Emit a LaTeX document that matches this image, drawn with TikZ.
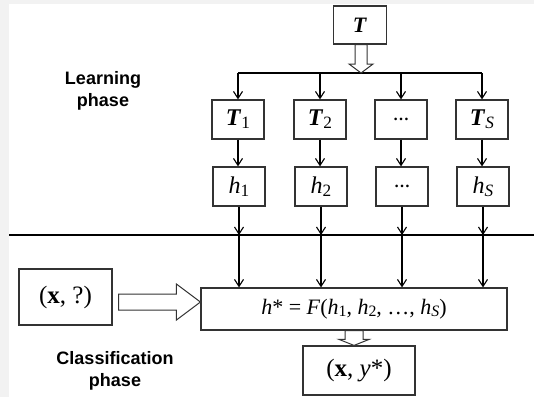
\documentclass[tikz,border=0pt]{standalone}
\usepackage{fontspec}
\usepackage{graphicx}
\setmainfont{Liberation Serif}
\newfontfamily\labelfont{Liberation Sans}
\usetikzlibrary{arrows.meta,calc}

% lowered, reduced index as in T_1, h_S
\newcommand{\idx}[1]{\raisebox{-0.12em}{\scalebox{0.72}{#1}}}

\tikzset{
  box/.style={draw=black!80, line width=1.2pt, fill=white, inner sep=0pt,
              minimum width=52pt, minimum height=39pt,
              font=\fontsize{24}{26}\selectfont},
  arr/.style={-{Straight Barb[length=7pt,width=9pt]}, line width=1.1pt},
  hollow/.style={draw=black!80, line width=1pt, fill=white, line join=miter},
  phase/.style={font=\labelfont\bfseries\fontsize{18}{22}\selectfont, align=center},
  dotsfont/.style={font=\bfseries\fontsize{16}{16}\selectfont},
}

\begin{document}
\begin{tikzpicture}[x=1pt,y=-1pt]
\useasboundingbox (0,0) rectangle (534,397);
\fill[white] (0,0) rectangle (534,397);
\fill[gray!10] (0,0) rectangle (9,397);
\fill[gray!10] (0,0) rectangle (534,4);

% phase labels
\node[phase] (lp) at (103,91) {Learning\\phase};
\node[phase] (cp) at (115,371) {Classification\\phase};

% training set and split bar
\node[box, minimum width=53pt, minimum height=38pt,
      font=\fontsize{22}{24}\selectfont] (T) at (360,25) {\textbf{\textit{T}}};
\coordinate (b1) at (238,73);
\coordinate (b2) at (320,73);
\coordinate (b3) at (401,73);
\coordinate (b4) at (482,73);
\draw[line width=1.1pt] (b1) -- (b4);

% hollow arrow T -> bar
\coordinate (ta) at ($(T.south)+(1,0)$);
\coordinate (tb) at (ta |- b1);
\draw[hollow] ($(ta)+(-6,0)$) -- ($(tb)+(-6,-9)$) -- ($(tb)+(-12,-9)$) -- (tb)
  -- ($(tb)+(12,-9)$) -- ($(tb)+(6,-9)$) -- ($(ta)+(6,0)$) -- cycle;

% subsets
\node[box] (T1) at (238,119.5) {\textbf{\textit{T}}\idx{1}};
\node[box] (T2) at (320,119.5) {\textbf{\textit{T}}\idx{2}};
\node[box, dotsfont] (T3) at (401,119.5) {…};
\node[box] (T4) at (482,119.5) {\textbf{\textit{T}}\idx{\textit{S}}};

% classifiers
\node[box] (h1) at (239,186.5) {\textit{h}\idx{1}};
\node[box] (h2) at (321,186.5) {\textit{h}\idx{2}};
\node[box, dotsfont] (h3) at (402,186.5) {…};
\node[box] (h4) at (483,186.5) {\textit{h}\idx{\textit{S}}};

\foreach \i in {1,2,3,4}{
  \draw[arr] (b\i) -- (T\i.north);
  \draw[arr] (T\i.south) -- (T\i.south |- h\i.north);
}

% divider between the phases
\draw[line width=2pt] (9,235) -- (534,235);

% combined classifier
\node[box, minimum width=306pt, minimum height=42pt,
      font=\fontsize{22}{24}\selectfont] (F) at (354,309)
  {\textit{h}* = \textit{F}(\textit{h}\idx{1}, \textit{h}\idx{2}, …, \textit{h}\idx{\textit{S}})};

\foreach \i in {1,2,3,4}{
  \coordinate (d\i) at (h\i.south |- 0,235);
  \draw[arr] (h\i.south) -- (d\i);
  \draw[arr] (d\i) -- (d\i |- F.north);
}

% input sample and output
\node[box, minimum width=93pt, minimum height=56pt,
      font=\fontsize{25}{27}\selectfont] (X) at (65.5,297) {(\textbf{x}, ?)};
\node[box, minimum width=112pt, minimum height=49pt,
      font=\fontsize{25}{27}\selectfont] (Y) at (359,370.5) {(\textbf{x}, \textit{y}*)};

% hollow arrow X -> F
\coordinate (ha) at ($(X.east)+(6,5)$);
\coordinate (hb) at (F.west |- ha);
\draw[hollow] ($(ha)+(0,-8)$) -- ($(hb)+(-24,-8)$) -- ($(hb)+(-24,-18)$) -- (hb)
  -- ($(hb)+(-24,18)$) -- ($(hb)+(-24,8)$) -- ($(ha)+(0,8)$) -- cycle;

% hollow arrow F -> Y
\coordinate (fa) at (F.south);
\coordinate (fb) at (fa |- Y.north);
\draw[hollow] ($(fa)+(-9,0)$) -- ($(fb)+(-9,-6)$) -- ($(fb)+(-15,-6)$) -- (fb)
  -- ($(fb)+(15,-6)$) -- ($(fb)+(9,-6)$) -- ($(fa)+(9,0)$) -- cycle;
\end{tikzpicture}
\end{document}
